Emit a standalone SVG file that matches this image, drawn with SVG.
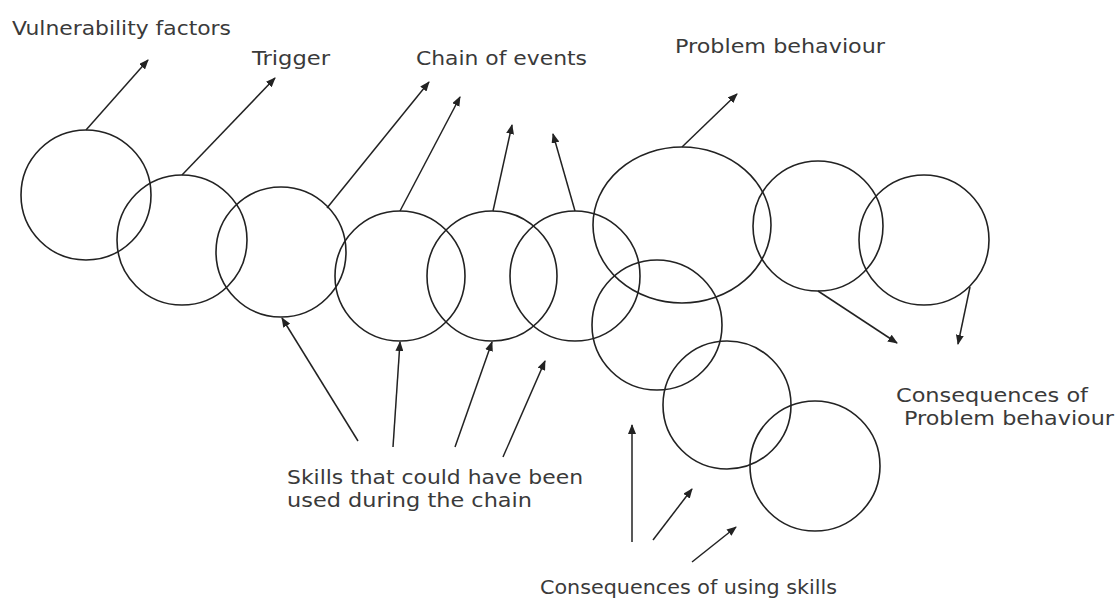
<svg xmlns="http://www.w3.org/2000/svg" width="1119" height="602" viewBox="0 0 1119 602">
  <style>
    .ring { fill: none; stroke: #222; stroke-width: 1.6; }
    .link { fill: none; stroke: #222; stroke-width: 1.5; }
    .arrow { fill: none; stroke: #222; stroke-width: 1.5; marker-end: url(#head); }
    .label { font-family: "DejaVu Sans", "Liberation Sans", sans-serif; font-size: 20px; fill: #3a3a3a; }
  </style>
  <defs>
    <marker id="head" viewBox="0 0 10 8" refX="9" refY="4" markerWidth="10" markerHeight="8" markerUnits="userSpaceOnUse" orient="auto">
      <path d="M0,0 L10,4 L0,8 z" fill="#222"/>
    </marker>
  </defs>
  <rect width="1119" height="602" fill="#ffffff"/>

  <!-- chain of overlapping rings -->
  <g id="ring-vulnerability"><circle class="ring" cx="86" cy="195" r="65"/></g>
  <g id="ring-trigger"><circle class="ring" cx="182" cy="240" r="65"/></g>
  <g id="ring-event-1"><circle class="ring" cx="281" cy="252" r="65"/></g>
  <g id="ring-event-2"><circle class="ring" cx="400" cy="276" r="65"/></g>
  <g id="ring-event-3"><circle class="ring" cx="492" cy="276" r="65"/></g>
  <g id="ring-event-4"><circle class="ring" cx="575" cy="276" r="65"/></g>
  <g id="ring-problem"><ellipse class="ring" cx="682" cy="225" rx="89" ry="78"/></g>
  <g id="ring-consequence-1"><circle class="ring" cx="818" cy="226" r="65"/></g>
  <g id="ring-consequence-2"><circle class="ring" cx="924" cy="240" r="65"/></g>
  <g id="ring-skill-1"><circle class="ring" cx="657" cy="325" r="65"/></g>
  <g id="ring-skill-2"><circle class="ring" cx="727" cy="405" r="64"/></g>
  <g id="ring-skill-3"><circle class="ring" cx="815" cy="466" r="65"/></g>

  <!-- connectors -->
  <g id="connectors">
    <line class="arrow" x1="86" y1="130" x2="148" y2="60"/>
    <line class="arrow" x1="182" y1="175" x2="275" y2="78"/>
    <line class="arrow" x1="327" y1="208" x2="429" y2="82"/>
    <line class="arrow" x1="400" y1="211" x2="460" y2="97"/>
    <line class="arrow" x1="493" y1="211" x2="512" y2="125"/>
    <line class="arrow" x1="575" y1="211" x2="553" y2="134"/>
    <line class="arrow" x1="682" y1="147" x2="737" y2="94"/>
    <line class="arrow" x1="818" y1="291" x2="897" y2="343"/>
    <line class="arrow" x1="970" y1="287" x2="958" y2="344"/>

    <line class="arrow" x1="358" y1="441" x2="282" y2="318"/>
    <line class="arrow" x1="393" y1="447" x2="400" y2="342"/>
    <line class="arrow" x1="455" y1="447" x2="492" y2="342"/>
    <line class="arrow" x1="503" y1="457" x2="545" y2="361"/>

    <line class="arrow" x1="632" y1="542" x2="632" y2="425"/>
    <line class="arrow" x1="653" y1="540" x2="692" y2="489"/>
    <line class="arrow" x1="692" y1="562" x2="736" y2="527"/>
  </g>

  <!-- labels -->
  <g id="label-vulnerability"><text class="label" x="12" y="35" textLength="219" lengthAdjust="spacingAndGlyphs">Vulnerability factors</text></g>
  <g id="label-trigger"><text class="label" x="252" y="65" textLength="78" lengthAdjust="spacingAndGlyphs">Trigger</text></g>
  <g id="label-chain"><text class="label" x="416" y="65" textLength="171" lengthAdjust="spacingAndGlyphs">Chain of events</text></g>
  <g id="label-problem"><text class="label" x="675" y="53" textLength="210" lengthAdjust="spacingAndGlyphs">Problem behaviour</text></g>
  <g id="label-consequences-problem">
    <text class="label" x="896" y="402" textLength="192" lengthAdjust="spacingAndGlyphs">Consequences of</text>
    <text class="label" x="904" y="425" textLength="210" lengthAdjust="spacingAndGlyphs">Problem behaviour</text>
  </g>
  <g id="label-skills">
    <text class="label" x="287" y="484" textLength="296" lengthAdjust="spacingAndGlyphs">Skills that could have been</text>
    <text class="label" x="287" y="507" textLength="245" lengthAdjust="spacingAndGlyphs">used during the chain</text>
  </g>
  <g id="label-consequences-skills"><text class="label" x="540" y="594" textLength="297" lengthAdjust="spacingAndGlyphs">Consequences of using skills</text></g>
</svg>
